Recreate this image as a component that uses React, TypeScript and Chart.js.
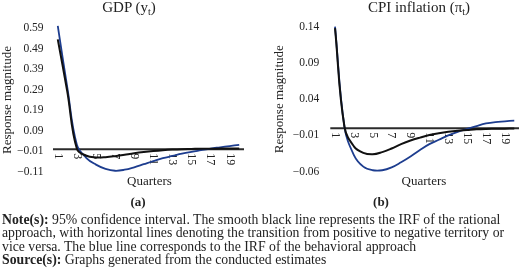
import React, { useEffect, useRef } from 'react';
import { Chart, registerables } from 'chart.js';

Chart.register(...registerables);

// ---------- data ----------
const QUARTERS = ['1', '2', '3', '4', '5', '6', '7', '8', '9', '10', '11', '12', '13', '14', '15', '16', '17', '18', '19', '20'];
const X_TICK_LABELS = ['1', '3', '5', '7', '9', '11', '13', '15', '17', '19'];

// Panel (a) GDP
const GDP_RATIONAL = [0.535, 0.28, 0.003, -0.031, -0.039, -0.038, -0.033, -0.026, -0.019, -0.013, -0.008, -0.004, -0.001, 0.001, 0.002, 0.003, 0.003, 0.004, 0.004, 0.004];
const GDP_BEHAVIORAL = [0.60, 0.30, 0.022, -0.042, -0.074, -0.095, -0.104, -0.099, -0.087, -0.072, -0.057, -0.043, -0.032, -0.021, -0.012, -0.004, 0.004, 0.010, 0.016, 0.022];
const GDP_TICKS = [-0.11, -0.01, 0.09, 0.19, 0.29, 0.39, 0.49, 0.59];

// Panel (b) CPI inflation
const CPI_RATIONAL = [0.138, 0.002, -0.025, -0.034, -0.036, -0.033, -0.028, -0.022, -0.017, -0.013, -0.0095, -0.007, -0.005, -0.0035, -0.0025, -0.0015, -0.001, -0.0008, -0.0006, -0.0005];
const CPI_BEHAVIORAL = [0.14, 0.002, -0.037, -0.053, -0.058, -0.058, -0.054, -0.047, -0.039, -0.03, -0.022, -0.016, -0.01, -0.005, -0.001, 0.003, 0.0065, 0.0085, 0.0095, 0.0105];
const CPI_TICKS = [-0.06, -0.01, 0.04, 0.09, 0.14];

// ---------- styles ----------
const FONT = '"Liberation Serif", "Times New Roman", serif';
const BLUE = '#1d3d8f';
const BLACK = '#111111';
const TEXT = '#222222';

function fmt(v: number): string {
  const s = Math.abs(v).toFixed(2);
  return v < -1e-9 ? '\u2212' + s : s;
}

const zeroAxisPlugin = {
  id: 'zeroAxis',
  beforeDatasetsDraw(chart: any) {
    const { ctx, chartArea, scales } = chart;
    const y0 = scales.y.getPixelForValue(0);
    ctx.save();
    ctx.strokeStyle = '#2b2b2b';
    ctx.lineWidth = 2;
    ctx.beginPath();
    ctx.moveTo(chartArea.left, y0);
    ctx.lineTo(chartArea.right, y0);
    ctx.stroke();
    ctx.fillStyle = TEXT;
    ctx.font = `12px ${FONT}`;
    ctx.textAlign = 'left';
    ctx.textBaseline = 'middle';
    X_TICK_LABELS.forEach((lbl) => {
      const x = scales.x.getPixelForValue(QUARTERS.indexOf(lbl));
      ctx.save();
      ctx.translate(x, y0 + 4);
      ctx.rotate(Math.PI / 2);
      ctx.fillText(lbl, 0, 0);
      ctx.restore();
    });
    ctx.restore();
  },
};

type ChartProps = {
  rational: number[];
  behavioral: number[];
  ticks: number[];
  min: number;
  max: number;
  pad: { left: number; right: number; top: number; bottom: number };
  yWidth: number;
  tickPad: number;
};

function IrfChart({ rational, behavioral, ticks, min, max, pad, yWidth, tickPad }: ChartProps) {
  const ref = useRef<HTMLCanvasElement>(null);
  useEffect(() => {
    const chart = new Chart(ref.current as HTMLCanvasElement, {
      type: 'line',
      data: {
        labels: QUARTERS,
        datasets: [
          {
            label: 'Rational',
            data: rational,
            borderColor: BLACK,
            borderWidth: 2,
            pointRadius: 0,
            tension: 0.4,
            clip: false as any,
          },
          {
            label: 'Behavioral',
            data: behavioral,
            borderColor: BLUE,
            borderWidth: 1.8,
            pointRadius: 0,
            tension: 0.4,
            clip: false as any,
          },
        ],
      },
      options: {
        responsive: false,
        animation: false,
        devicePixelRatio: 1,
        layout: { padding: pad },
        plugins: {
          legend: { display: false },
          tooltip: { enabled: false },
          title: { display: false },
        },
        scales: {
          x: { type: 'category', display: false, offset: true },
          y: {
            min,
            max,
            grid: { display: false, drawTicks: false },
            border: { display: false },
            afterBuildTicks: (s: any) => {
              s.ticks = ticks.map((v) => ({ value: v }));
            },
            afterFit: (s: any) => {
              s.width = yWidth;
            },
            ticks: {
              padding: tickPad,
              color: TEXT,
              font: { family: FONT, size: 11.5 },
              callback: (v: any) => fmt(Number(v)),
            },
            title: {
              display: true,
              text: 'Response magnitude',
              color: TEXT,
              font: { family: FONT, size: 13 },
              padding: 0,
            },
          },
        },
      },
      plugins: [zeroAxisPlugin],
    } as any);
    return () => chart.destroy();
  }, []);
  return <canvas ref={ref} width={260} height={200} style={{ display: 'block', width: 260, height: 200 }} />;
}

const abs = (left: number, top: number, extra: React.CSSProperties = {}): React.CSSProperties => ({
  position: 'absolute',
  left,
  top,
  fontFamily: FONT,
  color: TEXT,
  whiteSpace: 'nowrap',
  lineHeight: '16px',
  ...extra,
});

const subStyle: React.CSSProperties = { fontSize: 10, verticalAlign: 'baseline', position: 'relative', top: 3 };

export default function App() {
  useEffect(() => {
    document.body.style.margin = '0';
  }, []);
  return (
    <div style={{ position: 'relative', width: 520, height: 274, background: '#fff', overflow: 'hidden' }}>
      <div style={{ position: 'absolute', left: 0, top: 0 }}>
        <IrfChart
          rational={GDP_RATIONAL}
          behavioral={GDP_BEHAVIORAL}
          ticks={GDP_TICKS}
          min={-0.11}
          max={0.59}
          pad={{ left: 0, right: 16, top: 28, bottom: 28 }}
          yWidth={53}
          tickPad={9.5}
        />
      </div>
      <div style={{ position: 'absolute', left: 260, top: 0 }}>
        <IrfChart
          rational={CPI_RATIONAL}
          behavioral={CPI_BEHAVIORAL}
          ticks={CPI_TICKS}
          min={-0.06}
          max={0.14}
          pad={{ left: 12, right: 1, top: 26.7, bottom: 28.3 }}
          yWidth={58.3}
          tickPad={11}
        />
      </div>

      <div style={abs(29, -2, { width: 200, textAlign: 'center', fontSize: 15, lineHeight: '18px' })}>
        GDP (y<sub style={subStyle}>t</sub>)
      </div>
      <div style={abs(319, -2, { width: 200, textAlign: 'center', fontSize: 15, lineHeight: '18px' })}>
        CPI inflation (π<sub style={subStyle}>t</sub>)
      </div>

      <div style={abs(99.5, 173, { width: 100, textAlign: 'center', fontSize: 13 })}>Quarters</div>
      <div style={abs(374, 173, { width: 100, textAlign: 'center', fontSize: 13 })}>Quarters</div>

      <div style={abs(108, 194, { width: 60, textAlign: 'center', fontSize: 13, fontWeight: 'bold' })}>(a)</div>
      <div style={abs(351, 194, { width: 60, textAlign: 'center', fontSize: 13, fontWeight: 'bold' })}>(b)</div>

      <div style={abs(2, 211.5, { fontSize: 13.75 })}>
        <b>Note(s):</b> 95% confidence interval. The smooth black line represents the IRF of the rational
      </div>
      <div style={abs(2, 225, { fontSize: 13.75 })}>
        approach, with horizontal lines denoting the transition from positive to negative territory or
      </div>
      <div style={abs(2, 238.7, { fontSize: 13.75 })}>
        vice versa. The blue line corresponds to the IRF of the behavioral approach
      </div>
      <div style={abs(2, 252.3, { fontSize: 13.75 })}>
        <b>Source(s):</b> Graphs generated from the conducted estimates
      </div>
    </div>
  );
}
